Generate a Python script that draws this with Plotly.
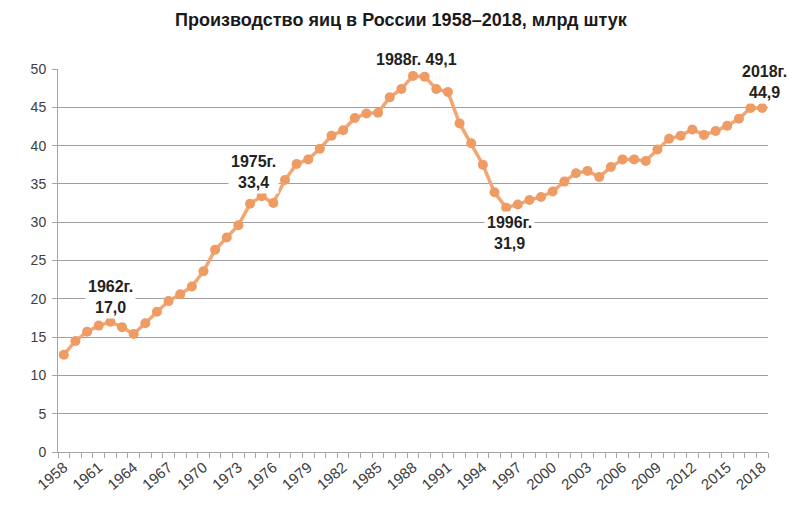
import plotly.graph_objects as go

# производство яиц, млрд штук
years = list(range(1958, 2019))
eggs = [12.7, 14.5, 15.7, 16.5, 17.0, 16.3, 15.4, 16.8, 18.3, 19.7,
        20.6, 21.6, 23.6, 26.4, 28.0, 29.6, 32.4, 33.4, 32.5, 35.5,
        37.6, 38.2, 39.6, 41.3, 42.0, 43.6, 44.2, 44.3, 46.3, 47.4,
        49.1, 49.0, 47.4, 47.0, 42.9, 40.3, 37.5, 33.9, 31.9, 32.3,
        32.9, 33.3, 34.0, 35.3, 36.4, 36.7, 35.9, 37.2, 38.2, 38.2,
        38.0, 39.5, 40.9, 41.3, 42.1, 41.4, 41.9, 42.6, 43.5, 44.9, 44.9]
tick_years = list(range(1958, 2019, 3))

# подписи: (год, значение по оси y, текст)
notes = [
    (1962, 20.3, "1962г.<br>17,0"),
    (1974.3, 36.5, "1975г.<br>33,4"),
    (1988.3, 51.2, "1988г. 49,1"),
    (1996.3, 28.6, "1996г.<br>31,9"),
    (2018.2, 48.3, "2018г.<br>44,9"),
]
x_range = [1957.5, 2018.5]
y_max = 50

fig = go.Figure()
fig.add_trace(go.Scatter(
    x=years, y=eggs, mode="lines+markers",
    line=dict(color="#F2A674", width=3.5),
    marker=dict(color="#EE9C64", size=10),
    cliponaxis=False,
))

span = x_range[1] - x_range[0]
for x, y, t in notes:
    # часть подписей выходит за оси, поэтому в долях области
    fig.add_annotation(x=(x - x_range[0]) / span, xref="paper",
                       y=y / y_max, yref="paper",
                       xanchor="center", yanchor="middle",
                       text="<b>" + t + "</b>",
                       showarrow=False, bgcolor="white", borderpad=2,
                       font=dict(family="Liberation Sans, Arial", size=16, color="#222222"))

fig.update_layout(
    width=797, height=506,
    paper_bgcolor="white", plot_bgcolor="white",
    margin=dict(l=50, r=37, t=61, b=62),
    showlegend=False,
    font=dict(family="Liberation Sans, Arial", color="#404040"),
    title=dict(text="<b>Производство яиц в России 1958–2018, млрд штук</b>",
               x=0.493, xanchor="center", y=0.976, yanchor="middle",
               font=dict(size=18, color="#1a1a1a")),
)
fig.update_xaxes(
    range=x_range, tickmode="array", tickvals=tick_years,
    ticktext=[str(v) for v in tick_years], tickangle=-40,
    tickfont=dict(size=15, color="#404040"), ticks="",
    showgrid=False, showline=True, linecolor="#a6a6a6", linewidth=1,
    minor=dict(tickmode="linear", tick0=1957.5, dtick=1, ticks="outside",
               ticklen=5, tickcolor="#a6a6a6", showgrid=False),
    zeroline=False,
)
fig.update_yaxes(
    range=[0, y_max], dtick=5, showgrid=True, gridcolor="#a0a0a0", gridwidth=1,
    showline=True, linecolor="#a6a6a6", linewidth=1, ticks="outside",
    ticklen=5, tickcolor="#a6a6a6", ticklabelstandoff=3,
    tickfont=dict(size=14, color="#404040"), zeroline=False,
)

fig.write_html("out.html")
